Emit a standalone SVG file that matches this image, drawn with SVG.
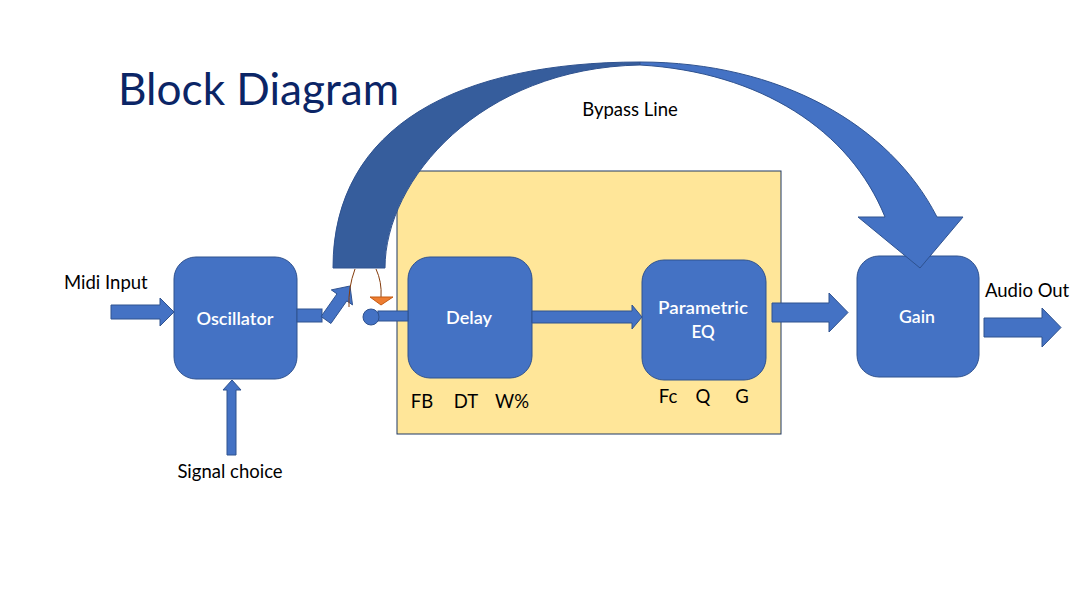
<svg xmlns="http://www.w3.org/2000/svg" width="1080" height="608" viewBox="0 0 1080 608">
<style>
.box{fill:#4472C4;stroke:#2F528F;stroke-width:1}
.arr{fill:#4472C4;stroke:#2F528F;stroke-width:1;stroke-linejoin:miter}
.wt{font-family:Lato,"Liberation Sans",sans-serif;font-size:17px;fill:#FFFFFF;font-weight:600;text-anchor:middle}
.lbl{font-family:Lato,"Liberation Sans",sans-serif;font-size:18.5px;fill:#000000}
.sw{fill:none;stroke:#843C0C;stroke-width:1}
</style>
<rect width="1080" height="608" fill="#FFFFFF"/>
<text x="118" y="105" font-family="Lato,'Liberation Sans',sans-serif" font-size="45" fill="#0B2566" textLength="281" lengthAdjust="spacingAndGlyphs">Block Diagram</text>

<g id="effects-area">
<rect x="397" y="171" width="384" height="263" fill="#FFE699" stroke="#1F3864" stroke-width="1"/>
</g>

<g id="oscillator">
<rect class="box" x="174" y="257" width="123" height="122" rx="22"/>
<text class="wt" x="235" y="325" textLength="77" lengthAdjust="spacingAndGlyphs">Oscillator</text>
</g>
<g id="delay">
<rect class="box" x="408" y="257" width="124" height="121" rx="22"/>
<text class="wt" x="469" y="324" textLength="46" lengthAdjust="spacingAndGlyphs">Delay</text>
<text class="lbl" x="422" y="408" text-anchor="middle">FB</text>
<text class="lbl" x="466" y="408" text-anchor="middle">DT</text>
<text class="lbl" x="512" y="408" text-anchor="middle">W%</text>
</g>
<g id="parametric-eq">
<rect class="box" x="642" y="260" width="124" height="120" rx="22"/>
<text class="wt" x="703" y="314" textLength="90" lengthAdjust="spacingAndGlyphs">Parametric</text>
<text class="wt" x="703" y="338">EQ</text>
<text class="lbl" x="668" y="403" text-anchor="middle">Fc</text>
<text class="lbl" x="703" y="403" text-anchor="middle">Q</text>
<text class="lbl" x="742" y="403" text-anchor="middle">G</text>
</g>
<g id="gain">
<rect class="box" x="857" y="256" width="122" height="121" rx="22"/>
<text class="wt" x="917" y="323" textLength="36" lengthAdjust="spacingAndGlyphs">Gain</text>
</g>

<g id="connectors">
<polygon class="arr" points="111,305 160,305 160,298 174,312 160,326 160,319 111,319"/>
<polygon class="arr" points="227,455 236,455 236,390 241,390 232,380 223,390 227,390"/>
<rect class="arr" x="297" y="309" width="25" height="13"/>
<polygon class="arr" points="321.1,316.5 337,293.9 331.3,289.9 350,286 352.5,304.9 346.8,300.9 330.9,323.5"/>
<path class="sw" d="M355,269 Q348,288 349,307"/>
<path class="sw" d="M376,269 Q382,282 381,297"/>
<polygon points="370,297 393,297 381,305" fill="#ED7D31" stroke="#C55A11" stroke-width="1"/>
<rect class="arr" x="378" y="311" width="30" height="10"/>
<circle class="arr" cx="371" cy="317" r="8"/>
<polygon class="arr" points="532,311 632,311 632,305 642,317 632,329 632,323 532,323"/>
<polygon class="arr" points="772,303 829,303 829,293 848,312.5 829,332 829,322 772,322"/>
<polygon class="arr" points="984,318 1042,318 1042,308 1061,327.5 1042,347 1042,337 984,337"/>
<path d="M333,268 C333,125 460,62 640,62 L640,65 C480,68 385,180 385,268 Z" fill="#365D9C" stroke="#2F528F" stroke-width="1"/>
<path class="arr" d="M640,62 C780,62 890,125 937,217 L963,217 L920,268 L858,217 L885,217 C850,130 760,72 640,65 Z"/>
</g>

<text class="lbl" x="64" y="289">Midi Input</text>
<text class="lbl" x="230" y="478" text-anchor="middle">Signal choice</text>
<text class="lbl" x="630" y="116" text-anchor="middle">Bypass Line</text>
<text class="lbl" x="985" y="297">Audio Out</text>
</svg>
